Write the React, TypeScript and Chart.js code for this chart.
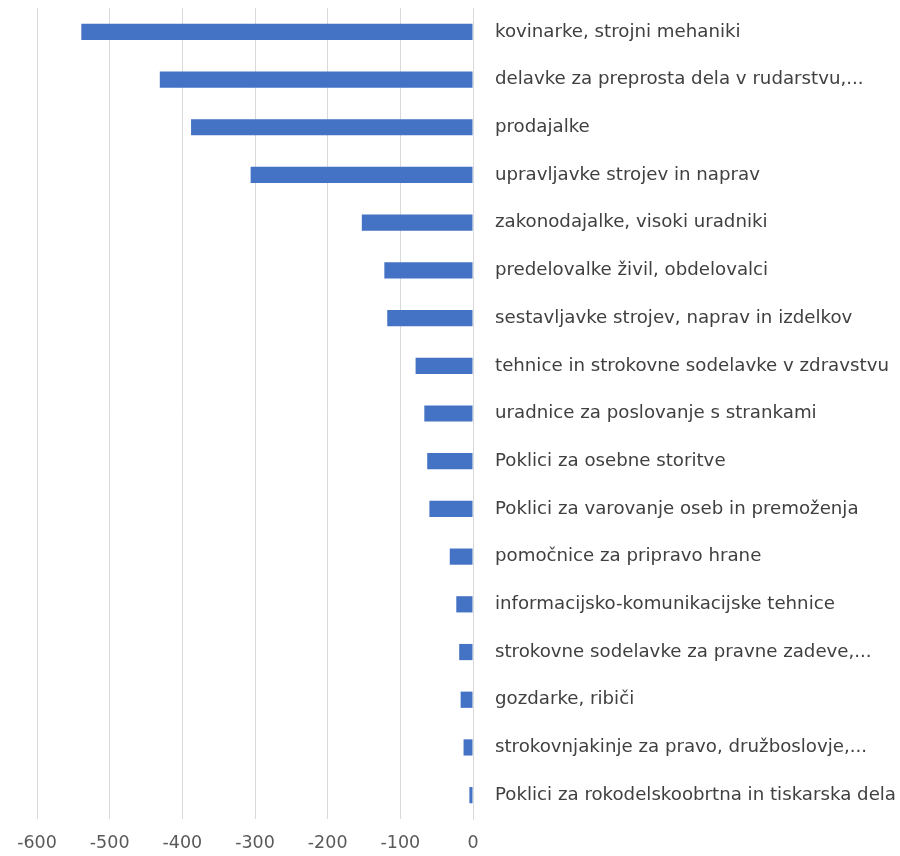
import React, { useEffect, useRef } from "react";
import { Chart, registerables } from "chart.js";

Chart.register(...registerables);

const categories = [
  "kovinarke, strojni mehaniki",
  "delavke za preprosta dela v rudarstvu,...",
  "prodajalke",
  "upravljavke strojev in naprav",
  "zakonodajalke, visoki uradniki",
  "predelovalke živil, obdelovalci",
  "sestavljavke strojev, naprav in izdelkov",
  "tehnice in strokovne sodelavke v zdravstvu",
  "uradnice za poslovanje s strankami",
  "Poklici za osebne storitve",
  "Poklici za varovanje oseb in premoženja",
  "pomočnice za pripravo hrane",
  "informacijsko-komunikacijske tehnice",
  "strokovne sodelavke za pravne zadeve,...",
  "gozdarke, ribiči",
  "strokovnjakinje za pravo, družboslovje,...",
  "Poklici za rokodelskoobrtna in tiskarska dela",
];

const values = [-539, -431, -388, -306, -153, -122, -118, -79, -67, -63, -60, -32, -23, -19, -17, -13, -5];

const xMin = -600;
const xMax = 0;
const xStep = 100;

export default function App() {
  const ref = useRef<HTMLCanvasElement | null>(null);
  useEffect(() => {
    if (!ref.current) return;
    const chart = new Chart(ref.current, {
      type: "bar",
      data: {
        labels: categories,
        datasets: [
          {
            data: values,
            backgroundColor: "#4472C4",
            borderWidth: 0,
            barPercentage: 0.34,
            categoryPercentage: 1,
          },
        ],
      },
      options: {
        indexAxis: "y",
        animation: false,
        responsive: false,
        maintainAspectRatio: false,
        layout: { padding: { left: 37, top: 8, right: 0, bottom: 0 } },
        plugins: { legend: { display: false }, tooltip: { enabled: false } },
        scales: {
          x: {
            min: xMin,
            max: xMax,
            afterFit: (scale: any) => {
              scale.height = 37;
            },
            ticks: {
              stepSize: xStep,
              color: "#595959",
              font: { family: "DejaVu Sans", size: 17.5 },
              padding: 14,
            },
            grid: { color: "#d9d9d9", drawTicks: false, lineWidth: 1 },
            border: { display: false },
          },
          y: {
            position: "right",
            afterFit: (scale: any) => {
              scale.width = 427;
              scale.paddingTop = 0;
              scale.paddingBottom = 0;
            },
            ticks: {
              color: "#404040",
              font: { family: "DejaVu Sans", size: 18.2 },
              crossAlign: "near",
              padding: 22,
              autoSkip: false,
            },
            grid: { display: false, drawTicks: false },
            border: { display: true, color: "#d9d9d9" },
          },
        },
      },
    });
    return () => chart.destroy();
  }, []);
  return (
    <div style={{ position: "absolute", left: 0, top: 0, width: 900, height: 856, background: "#fff" }}>
      <canvas ref={ref} width={900} height={856} />
    </div>
  );
}
